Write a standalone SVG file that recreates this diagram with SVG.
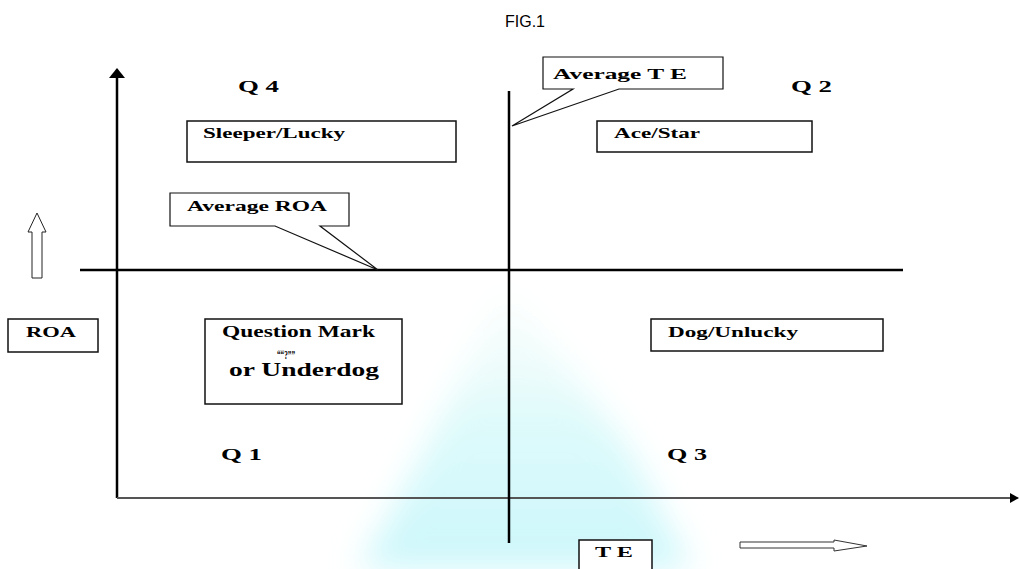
<svg xmlns="http://www.w3.org/2000/svg" width="1019" height="569" viewBox="0 0 1019 569">
<style>
.lbl{font-family:"Liberation Serif","Times New Roman",serif;font-weight:bold;fill:#000}
.q{font-size:17px}
.b{font-size:15px}
.box{fill:#fff;stroke:#111;stroke-width:1.5}
.axis{stroke:#000;stroke-width:2.5;fill:none}
.fig{font-family:"Liberation Sans",Arial,sans-serif;font-size:16px;fill:#000}
</style>
<defs>
<filter id="blur" x="-30%" y="-30%" width="160%" height="160%"><feGaussianBlur stdDeviation="16"/></filter>
<linearGradient id="cy" x1="0" y1="0" x2="0" y2="1">
<stop offset="0" stop-color="#eefcf8" stop-opacity="0.3"/>
<stop offset="0.5" stop-color="#ddfafb"/>
<stop offset="1" stop-color="#ccf7fb"/>
</linearGradient>
</defs>
<rect width="1019" height="569" fill="#fff"/>
<g id="background">
<path d="M505,290 L570,370 L630,450 L690,569 L360,569 L420,460 L460,380 Z" fill="url(#cy)" filter="url(#blur)"/>
</g>
<text class="fig" x="505" y="27">FIG.1</text>
<g id="connectors">
<line class="axis" x1="117" y1="76" x2="117" y2="498"/>
<polygon points="117,68 109,78 125,78" fill="#000"/>
<line x1="117" y1="498" x2="1012" y2="498" stroke="#555" stroke-width="2"/>
<polygon points="1019,498 1010,493 1010,503" fill="#000"/>
<line class="axis" x1="509" y1="91" x2="509" y2="543"/>
<line class="axis" x1="80" y1="270" x2="903" y2="270"/>
<polygon points="37,213 28,232 32,232 32,278 42,278 42,232 46,232" fill="#fff" stroke="#222" stroke-width="1"/>
<polygon points="740,542 834,542 834,540 867,546 834,551 834,548 740,548" fill="#fff" stroke="#333" stroke-width="1"/>
</g>
<g id="avg-te">
<path d="M543,57 H723 V89 H619 L512,126 L573,89 H543 Z" fill="#fff" stroke="#111" stroke-width="1.2"/>
<text class="lbl b" x="553" y="79" textLength="134" lengthAdjust="spacingAndGlyphs">Average T E</text>
</g>
<g id="avg-roa">
<path d="M170,193 H349 V226 H320 L378,270 L275,226 H170 Z" fill="#fff" stroke="#111" stroke-width="1.2"/>
<text class="lbl b" x="187" y="211" textLength="140" lengthAdjust="spacingAndGlyphs">Average ROA</text>
</g>
<g id="q4"><text class="lbl q" x="238" y="92" textLength="41" lengthAdjust="spacingAndGlyphs">Q 4</text></g>
<g id="q2"><text class="lbl q" x="791" y="92" textLength="41" lengthAdjust="spacingAndGlyphs">Q 2</text></g>
<g id="q1"><text class="lbl q" x="221" y="460" textLength="41" lengthAdjust="spacingAndGlyphs">Q 1</text></g>
<g id="q3"><text class="lbl q" x="667" y="460" textLength="40" lengthAdjust="spacingAndGlyphs">Q 3</text></g>
<g id="sleeper">
<rect class="box" x="187" y="121" width="269" height="41"/>
<text class="lbl b" x="203" y="138" textLength="142" lengthAdjust="spacingAndGlyphs">Sleeper/Lucky</text>
</g>
<g id="ace">
<rect class="box" x="597" y="121" width="215" height="31"/>
<text class="lbl b" x="614" y="138" textLength="86" lengthAdjust="spacingAndGlyphs">Ace/Star</text>
</g>
<g id="roa">
<rect class="box" x="8" y="319" width="90" height="33"/>
<text class="lbl b" x="26" y="337" textLength="50" lengthAdjust="spacingAndGlyphs">ROA</text>
</g>
<g id="question">
<rect class="box" x="205" y="319" width="197" height="85"/>
<text class="lbl" font-size="16" x="222" y="337" textLength="153" lengthAdjust="spacingAndGlyphs">Question Mark</text>
<text class="lbl" font-size="13" x="277" y="359" textLength="18" lengthAdjust="spacingAndGlyphs">““?””</text>
<text class="lbl" font-size="18" x="229" y="376" textLength="150" lengthAdjust="spacingAndGlyphs">or Underdog</text>
</g>
<g id="dog">
<rect class="box" x="651" y="319" width="232" height="32"/>
<text class="lbl b" x="668" y="337" textLength="130" lengthAdjust="spacingAndGlyphs">Dog/Unlucky</text>
</g>
<g id="te">
<rect class="box" x="579" y="540" width="73" height="40"/>
<text class="lbl" font-size="14" x="595" y="557" textLength="38" lengthAdjust="spacingAndGlyphs">T E</text>
</g>
</svg>
